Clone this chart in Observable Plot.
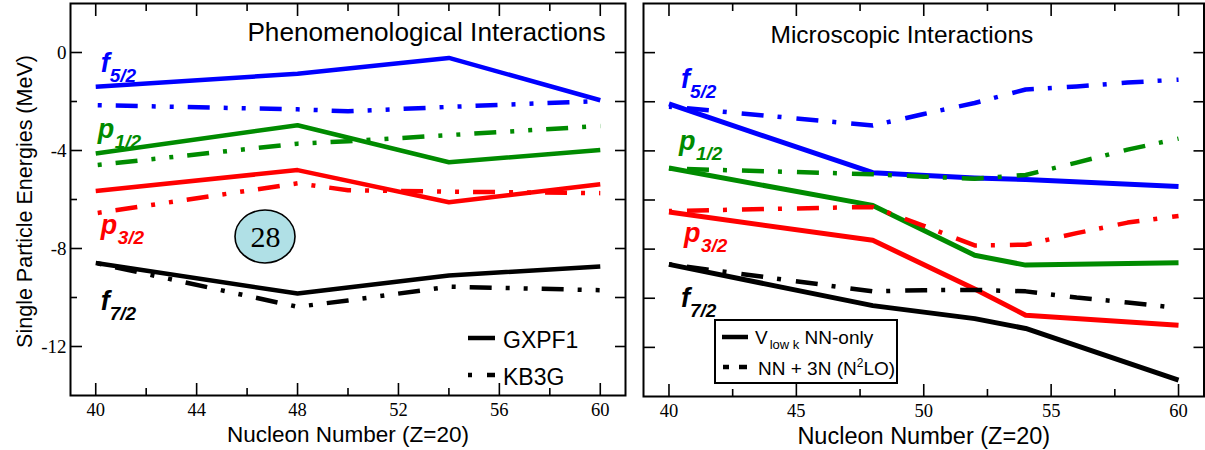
<!DOCTYPE html>
<html><head><meta charset="utf-8">
<script src="https://cdn.jsdelivr.net/npm/d3@7"></script>
<script src="https://cdn.jsdelivr.net/npm/@observablehq/plot@0.6"></script>
<style>
html,body{margin:0;padding:0;background:#fff;}
#wrap{display:flex;width:1205px;height:450px;overflow:hidden;background:#fff;}
#wrap svg{display:block;flex:none;}
</style></head><body><div id="wrap"></div>
<script>
// ---------- data ----------
const orbitals = ["f5/2", "p1/2", "p3/2", "f7/2"];
const orbitalColors = ["#0000ff", "#008b00", "#ff0000", "#000000"];

// Left panel: phenomenological interactions
const gxpf1N = [40, 48, 54, 60];
const gxpf1F52 = [-1.40, -0.87, -0.22, -1.95];
const gxpf1P12 = [-4.12, -2.97, -4.48, -3.98];
const gxpf1P32 = [-5.65, -4.80, -6.11, -5.38];
const gxpf1F72 = [-8.59, -9.84, -9.10, -8.73];

const kb3gN = [40, 48, 50, 54, 60];
const kb3gF52 = [-2.15, -2.32, -2.40, -2.22, -1.98];
const kb3gP12 = [-4.60, -3.72, -3.62, -3.37, -3.00];
const kb3gP32 = [-6.56, -5.34, -5.62, -5.68, -5.74];
const kb3gF72 = [-8.59, -10.38, -10.12, -9.56, -9.70];

// Right panel: microscopic interactions
const vlowN = [40, 48, 52, 54, 60];
const vlowF52 = [-2.09, -4.89, -5.10, -5.17, -5.45];
const vlowP12 = [-4.70, -6.22, -8.25, -8.65, -8.55];
const vlowP32 = [-6.49, -7.64, -9.62, -10.69, -11.10];
const vlowF72 = [-8.62, -10.30, -10.83, -11.23, -13.33];

const nn3nN = [40, 48, 50, 52, 54, 56, 58, 60];
const nn3nF52 = [-2.20, -2.97, -2.50, -2.05, -1.50, -1.38, -1.22, -1.10];
const nn3nP12 = [-4.72, -4.95, -5.05, -5.13, -4.98, -4.48, -3.95, -3.50];
const nn3nP32 = [-6.45, -6.28, -7.05, -7.85, -7.82, -7.35, -6.92, -6.65];
const nn3nF72 = [-8.62, -9.72, -9.67, -9.66, -9.72, -9.97, -10.17, -10.40];

// tick values and labels
const leftMajorX = [40, 44, 48, 52, 56, 60];
const leftMinorX = [42, 46, 50, 54, 58];
const leftMajorY = [0, -4, -8, -12];
const leftMinorY = [-2, -6, -10];
const rightMajorX = [40, 45, 50, 55, 60];
const rightMinorX = [42.5, 47.5, 52.5, 57.5];
const rightY = [0, -2, -4, -6, -8, -10, -12];

const leftTitle = "Phenomenological Interactions";
const rightTitle = "Microscopic Interactions";
const xLabel = "Nucleon Number (Z=20)";
const yLabel = "Single Particle Energies (MeV)";
const phenModels = ["GXPF1", "KB3G"];
const magic = [{n: "28", x: 46.73, y: -7.53}];

// orbital name annotations (letter, subscript, anchor in data units)
const leftOrbLabels = [
  {orbital: "f5/2", letter: "f", sub: "5/2", x: 40.2, y: -0.81},
  {orbital: "p1/2", letter: "p", sub: "1/2", x: 40.08, y: -3.5},
  {orbital: "p3/2", letter: "p", sub: "3/2", x: 40.2, y: -7.4},
  {orbital: "f7/2", letter: "f", sub: "7/2", x: 40.2, y: -10.53}
];
const rightOrbLabels = [
  {orbital: "f5/2", letter: "f", sub: "5/2", x: 40.47, y: -1.42},
  {orbital: "p1/2", letter: "p", sub: "1/2", x: 40.39, y: -3.98},
  {orbital: "p3/2", letter: "p", sub: "3/2", x: 40.59, y: -7.72},
  {orbital: "f7/2", letter: "f", sub: "7/2", x: 40.47, y: -10.37}
];

// ---------- helpers ----------
const sans = "'Liberation Sans', Arial, Helvetica, sans-serif";
const serif = "'Liberation Serif', 'Times New Roman', serif";

function rows(N, E, orbital, model) {
  return N.map((n, i) => ({n, e: E[i], orbital, model}));
}
const gxpf1 = [
  ...rows(gxpf1N, gxpf1F52, "f5/2", "GXPF1"), ...rows(gxpf1N, gxpf1P12, "p1/2", "GXPF1"),
  ...rows(gxpf1N, gxpf1P32, "p3/2", "GXPF1"), ...rows(gxpf1N, gxpf1F72, "f7/2", "GXPF1")
];
const kb3g = [
  ...rows(kb3gN, kb3gF52, "f5/2", "KB3G"), ...rows(kb3gN, kb3gP12, "p1/2", "KB3G"),
  ...rows(kb3gN, kb3gP32, "p3/2", "KB3G"), ...rows(kb3gN, kb3gF72, "f7/2", "KB3G")
];
const vlow = [
  ...rows(vlowN, vlowF52, "f5/2", "vlow"), ...rows(vlowN, vlowP12, "p1/2", "vlow"),
  ...rows(vlowN, vlowP32, "p3/2", "vlow"), ...rows(vlowN, vlowF72, "f7/2", "vlow")
];
const nn3n = [
  ...rows(nn3nN, nn3nF52, "f5/2", "nn3n"), ...rows(nn3nN, nn3nP12, "p1/2", "nn3n"),
  ...rows(nn3nN, nn3nP32, "p3/2", "nn3n"), ...rows(nn3nN, nn3nF72, "f7/2", "nn3n")
];

function inwardTicks(axis, values, anchor, size) {
  const key = {top: "insetTop", bottom: "insetBottom", left: "insetLeft", right: "insetRight"}[anchor];
  return axis(values, {anchor, tickSize: size, [key]: size, fill: "none", label: null, strokeWidth: 1.6, stroke: "black"});
}

function orbitalMarks(labels) {
  const base = {x: "x", y: "y", fill: "orbital", textAnchor: "start", lineAnchor: "bottom",
    fontFamily: sans, fontWeight: "bold", fontStyle: "italic"};
  return [
    Plot.text(labels, {...base, text: "letter", fontSize: 27}),
    Plot.text(labels.filter(d => d.letter === "f"), {...base, text: "sub", fontSize: 19, dx: 9, dy: 10}),
    Plot.text(labels.filter(d => d.letter === "p"), {...base, text: "sub", fontSize: 19, dx: 17, dy: 10})
  ];
}

const common = {
  height: 450,
  marginTop: 3,
  x: {domain: [39, 61]},
  y: {domain: [-14, 2]},
  color: {domain: orbitals, range: orbitalColors},
  style: {background: "white", overflow: "visible", color: "black"}
};

// ---------- left panel ----------
const leftDash = "22,14,4,14,4,14";
const left = Plot.plot({
  ...common,
  width: 632,
  marginLeft: 70, marginRight: 7, marginBottom: 55,
  marks: [
    Plot.line(gxpf1, {x: "n", y: "e", z: "orbital", stroke: "orbital", strokeWidth: 4.5, strokeLinecap: "butt", strokeLinejoin: "round"}),
    Plot.line(kb3g, {x: "n", y: "e", z: "orbital", stroke: "orbital", strokeWidth: 4.5, strokeLinecap: "butt", strokeDasharray: leftDash, strokeDashoffset: 52}),
    inwardTicks(Plot.axisX, leftMajorX, "bottom", 12),
    inwardTicks(Plot.axisX, leftMinorX, "bottom", 7),
    inwardTicks(Plot.axisX, leftMajorX, "top", 12),
    inwardTicks(Plot.axisX, leftMinorX, "top", 7),
    inwardTicks(Plot.axisY, leftMajorY, "left", 12),
    inwardTicks(Plot.axisY, leftMinorY, "left", 7),
    inwardTicks(Plot.axisY, leftMajorY, "right", 11),
    inwardTicks(Plot.axisY, leftMinorY, "right", 11),
    Plot.axisX(leftMajorX, {anchor: "bottom", tickSize: 0, tickPadding: 7, label: null, fontFamily: serif, fontSize: 18.5, tickFormat: d => String(d)}),
    Plot.axisY(leftMajorY, {anchor: "left", tickSize: 0, tickPadding: 4, label: null, fontFamily: serif, fontSize: 19, tickFormat: d => String(d)}),
    Plot.frame({stroke: "black", strokeWidth: 2}),
    Plot.text([leftTitle], {text: d => d, frameAnchor: "top-right", textAnchor: "end", lineAnchor: "bottom", dx: -20, dy: 37, fontSize: 26.2, fontFamily: sans}),
    Plot.text([xLabel], {text: d => d, frameAnchor: "bottom", lineAnchor: "bottom", dy: 46, fontSize: 22.5, fontFamily: sans}),
    Plot.text([yLabel], {text: d => d, frameAnchor: "left", rotate: -90, textAnchor: "middle", lineAnchor: "bottom", dx: -39, dy: 2, fontSize: 21.5, fontFamily: sans}),
    ...orbitalMarks(leftOrbLabels),
    (index, {x, y}) => {
      const g = d3.create("svg:g");
      for (const m of magic) {
        g.append("ellipse").attr("cx", x(m.x)).attr("cy", y(m.y)).attr("rx", 30).attr("ry", 26.5)
          .attr("fill", "#b0e0e6").attr("stroke", "black").attr("stroke-width", 1.6);
      }
      return g.node();
    },
    Plot.text(magic, {x: "x", y: "y", text: "n", fontSize: 30, fontFamily: serif, lineAnchor: "middle"}),
    (index, scales, values, dim) => {
      const R = dim.width - dim.marginRight, B = dim.height - dim.marginBottom;
      const g = d3.create("svg:g").attr("font-family", sans).attr("font-size", 23).attr("text-anchor", "start");
      const rowsY = [B - 57, B - 20];
      const dashes = [null, "4,15,8,100"];
      phenModels.forEach((name, i) => {
        g.append("line").attr("x1", R - 157).attr("x2", R - 130).attr("y1", rowsY[i]).attr("y2", rowsY[i])
          .attr("stroke", "black").attr("stroke-width", 4.5).attr("stroke-dasharray", dashes[i]);
        g.append("text").attr("x", R - 122).attr("y", rowsY[i] + 9.5).attr("fill", "black").text(name);
      });
      return g.node();
    }
  ]
});

// ---------- right panel ----------
const rightDash = "22,14,4,15";
const right = Plot.plot({
  ...common,
  width: 573,
  marginLeft: 11, marginRight: 1.5, marginBottom: 54,
  marks: [
    Plot.line(vlow, {x: "n", y: "e", z: "orbital", stroke: "orbital", strokeWidth: 5, strokeLinecap: "butt", strokeLinejoin: "round"}),
    Plot.line(nn3n, {x: "n", y: "e", z: "orbital", stroke: "orbital", strokeWidth: 4.5, strokeLinecap: "butt", strokeDasharray: rightDash, strokeDashoffset: 37}),
    inwardTicks(Plot.axisX, rightMajorX, "bottom", 12),
    inwardTicks(Plot.axisX, rightMinorX, "bottom", 7),
    inwardTicks(Plot.axisX, rightMajorX, "top", 12),
    inwardTicks(Plot.axisX, rightMinorX, "top", 7),
    inwardTicks(Plot.axisY, rightY, "left", 12),
    inwardTicks(Plot.axisY, rightY, "right", 11),
    Plot.axisX(rightMajorX, {anchor: "bottom", tickSize: 0, tickPadding: 7, label: null, fontFamily: serif, fontSize: 18.5, tickFormat: d => String(d)}),
    Plot.frame({stroke: "black", strokeWidth: 2}),
    Plot.text([rightTitle], {text: d => d, frameAnchor: "top-left", textAnchor: "start", lineAnchor: "bottom", dx: 127, dy: 39, fontSize: 24.5, fontFamily: sans}),
    Plot.text([xLabel], {text: d => d, frameAnchor: "bottom", lineAnchor: "bottom", dy: 47, fontSize: 23.5, fontFamily: sans}),
    ...orbitalMarks(rightOrbLabels),
    (index, scales, values, dim) => {
      const L = dim.marginLeft, B = dim.height - dim.marginBottom;
      const g = d3.create("svg:g").attr("font-family", sans).attr("font-size", 19).attr("text-anchor", "start");
      g.append("rect").attr("x", L + 72).attr("y", B - 76).attr("width", 182).attr("height", 63)
        .attr("fill", "white").attr("stroke", "black").attr("stroke-width", 2);
      const y1 = B - 59, y2 = B - 29;
      g.append("line").attr("x1", L + 79).attr("x2", L + 105).attr("y1", y1).attr("y2", y1)
        .attr("stroke", "black").attr("stroke-width", 4.5);
      const t1 = g.append("text").attr("x", L + 112).attr("y", y1 + 6.5).attr("fill", "black");
      t1.append("tspan").text("V");
      t1.append("tspan").attr("dx", 2).attr("dy", 5).attr("font-size", 13).text("low k");
      t1.append("tspan").attr("dy", -5).text(" NN-only");
      g.append("line").attr("x1", L + 80).attr("x2", L + 105).attr("y1", y2).attr("y2", y2)
        .attr("stroke", "black").attr("stroke-width", 4.5).attr("stroke-dasharray", "6,10,8,100");
      const t2 = g.append("text").attr("x", L + 115).attr("y", y2 + 7.5).attr("fill", "black");
      t2.append("tspan").text("NN + 3N (N");
      t2.append("tspan").attr("dy", -8).attr("font-size", 12).text("2");
      t2.append("tspan").attr("dy", 8).text("LO)");
      return g.node();
    }
  ]
});

const wrap = document.getElementById("wrap");
wrap.appendChild(left);
wrap.appendChild(right);
</script>
</body></html>
